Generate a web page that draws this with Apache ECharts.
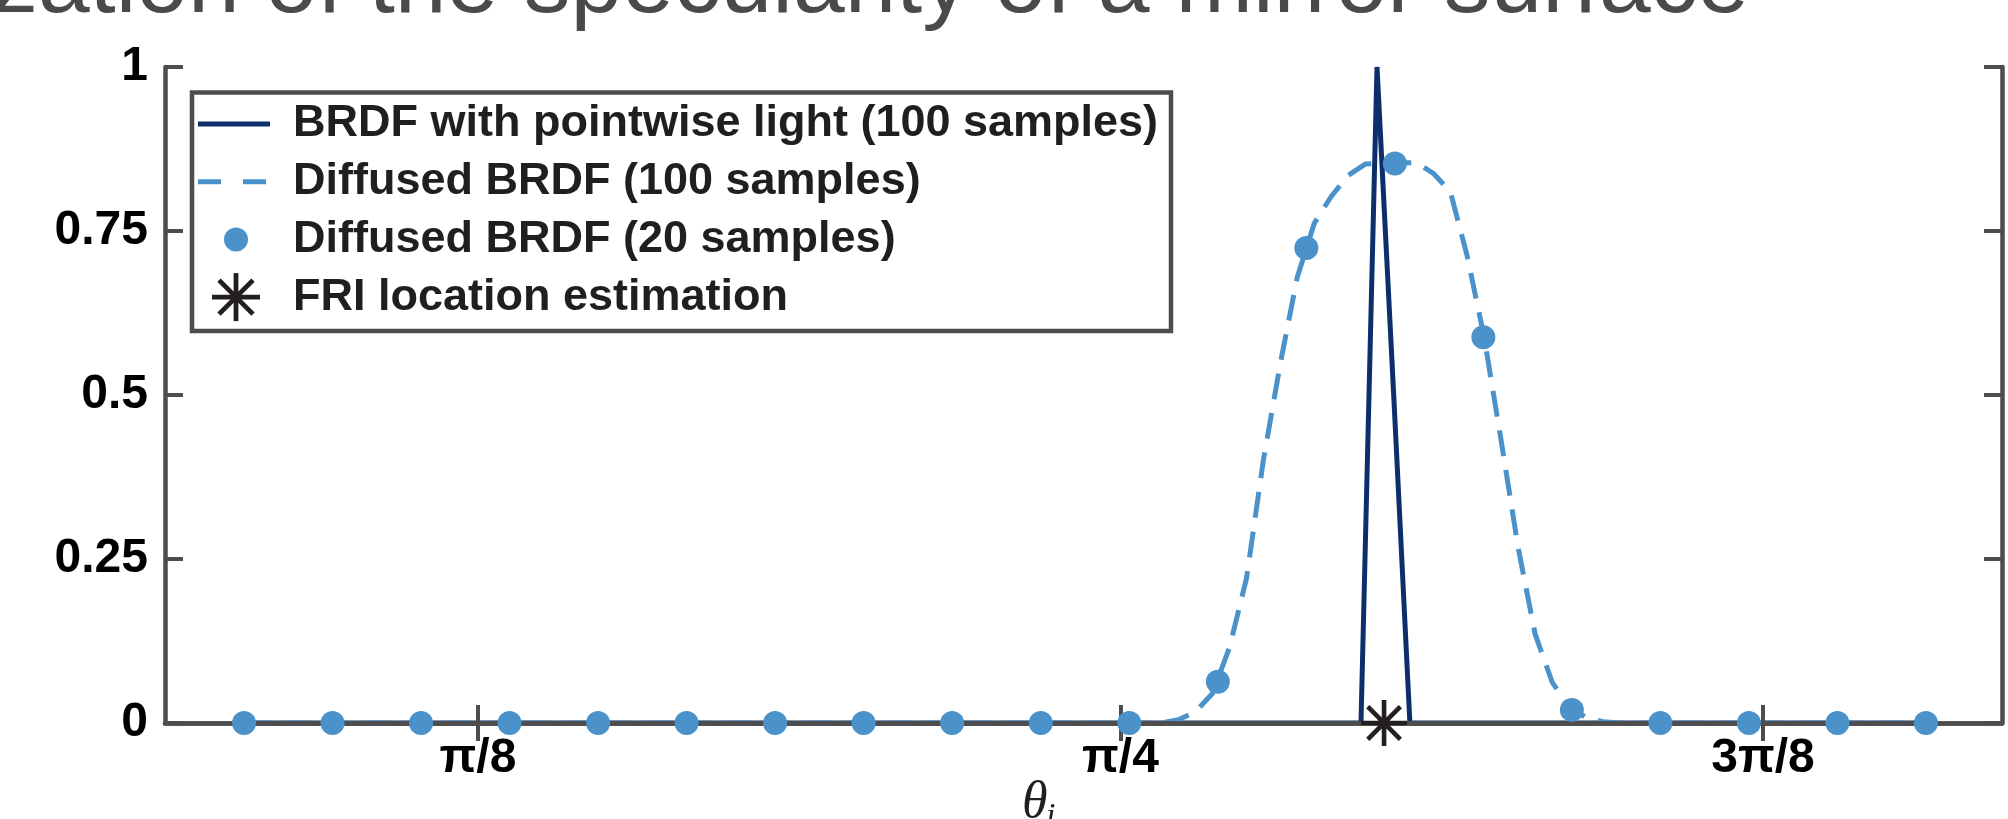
<!DOCTYPE html>
<html>
<head>
<meta charset="utf-8">
<script src="https://cdn.jsdelivr.net/npm/echarts@6/dist/echarts.min.js"></script>
<style>
html,body{margin:0;padding:0;background:#fff;}
#chart{width:2008px;height:819px;}
</style>
</head>
<body>
<div id="chart"></div>
<script>
// ---- data ----
const titleText = 'Localization of the specularity of a mirror surface';
const seriesNames = [
  'BRDF with pointwise light (100 samples)',
  'Diffused BRDF (100 samples)',
  'Diffused BRDF (20 samples)',
  'FRI location estimation'
];
const xTickValues = [Math.PI / 8, Math.PI / 4, 3 * Math.PI / 8];
const xTickLabels = ['π/8', 'π/4', '3π/8'];
const yTickValues = [0, 0.25, 0.5, 0.75, 1];

// pointwise-light BRDF (100 samples, only the samples where the shape changes)
const thetaPointwise = [0.2497, 0.9324, 0.9422, 0.9526, 0.9623, 1.2777];
const brdfPointwise  = [0,      0,      1,      0.49,   0,      0];

// diffused BRDF, 100 samples (zero outside the bump)
const thetaDiffused100 = [0.2497, 0.8001, 0.8104, 0.8208, 0.8312, 0.8416, 0.8520, 0.8624, 0.8727,
  0.8831, 0.8935, 0.9039, 0.9143, 0.9247, 0.9350, 0.9454, 0.9558, 0.9662, 0.9766, 0.9870,
  0.9973, 1.0077, 1.0181, 1.0285, 1.0389, 1.0493, 1.0596, 1.0700, 1.0804, 1.0908, 1.2777];
const brdfDiffused100 = [0, 0, 0, 0.005, 0.017, 0.045, 0.115, 0.22, 0.40,
  0.548, 0.68, 0.762, 0.803, 0.835, 0.852, 0.853, 0.854, 0.854, 0.838, 0.81,
  0.712, 0.588, 0.43, 0.267, 0.135, 0.062, 0.025, 0.008, 0.002, 0, 0];

// diffused BRDF, 20 samples
const thetaDiffused20 = [0.2497, 0.3038, 0.3579, 0.4120, 0.4661, 0.5202, 0.5743, 0.6284, 0.6825, 0.7367,
  0.7908, 0.8449, 0.8990, 0.9531, 1.0072, 1.0613, 1.1154, 1.1695, 1.2236, 1.2777];
const brdfDiffused20 = [0, 0, 0, 0, 0, 0, 0, 0, 0, 0,
  0, 0.063, 0.724, 0.853, 0.588, 0.020, 0, 0, 0, 0];

// FRI estimated location
const thetaFRI = [0.9465];
const valueFRI = [0];

const xMin = 0.2014, xMax = 1.3242;

// ---- styles ----
const axisColor = '#4d4d4d';
const darkBlue = '#0c2f6b';
const lightBlue = '#4a92c9';
const starColor = '#231f20';
const starPath = 'path://M45 0L55 0L55 100L45 100Z M0 45L100 45L100 55L0 55Z M18.1 11.1L88.9 81.9L81.9 88.9L11.1 18.1Z M81.9 11.1L88.9 18.1L18.1 88.9L11.1 81.9Z';

const zip = (a, b) => a.map((v, i) => [v, b[i]]);
const xLabelFmt = v => {
  let best = 0;
  xTickValues.forEach((t, i) => { if (Math.abs(t - v) < Math.abs(xTickValues[best] - v)) best = i; });
  return xTickLabels[best];
};

const tickFont = {fontFamily: '"Liberation Sans", Arial, sans-serif', fontWeight: 'bold', fontSize: 48, color: '#000', lineHeight: 48};
const axisLineStyle = {show: true, lineStyle: {color: axisColor, width: 4.5}};
const tickStyle = {show: true, inside: true, length: 18, lineStyle: {color: axisColor, width: 4}};

const chart = echarts.init(document.getElementById('chart'), null, {renderer: 'canvas'});
const legendTop = 124, legendGap = 57.7;
const legendText = {font: 'bold 45px "Liberation Sans", Arial, sans-serif', fill: '#1f1f1f'};

chart.setOption({
  animation: false,
  backgroundColor: '#fff',
  grid: {left: 165, right: 6, top: 67, bottom: 96, containLabel: false, outerBoundsMode: 'none'},
  xAxis: [{
    type: 'value', min: xMin, max: xMax, position: 'bottom', z: 3,
    axisLine: axisLineStyle,
    axisTick: Object.assign({customValues: xTickValues}, tickStyle),
    axisLabel: Object.assign({customValues: xTickValues, margin: 12, formatter: xLabelFmt}, tickFont),
    splitLine: {show: false}
  }, {
    type: 'value', min: xMin, max: xMax, position: 'top', z: 3,
    axisLine: axisLineStyle,
    axisTick: Object.assign({customValues: xTickValues}, tickStyle),
    axisLabel: {show: false},
    splitLine: {show: false}
  }],
  yAxis: [{
    type: 'value', min: 0, max: 1, interval: 0.25, position: 'left', z: 3,
    axisLine: axisLineStyle,
    axisTick: tickStyle,
    axisLabel: Object.assign({margin: 17, formatter: v => String(v)}, tickFont),
    splitLine: {show: false}
  }, {
    type: 'value', min: 0, max: 1, interval: 0.25, position: 'right', z: 3,
    axisLine: axisLineStyle,
    axisTick: tickStyle,
    axisLabel: {show: false},
    splitLine: {show: false}
  }],
  series: [{
    name: seriesNames[0], type: 'line', z: 2, clip: false,
    data: zip(thetaPointwise, brdfPointwise),
    showSymbol: false, symbol: 'none',
    lineStyle: {color: darkBlue, width: 5}
  }, {
    name: seriesNames[1], type: 'line', z: 2, clip: false,
    data: zip(thetaDiffused100, brdfDiffused100),
    showSymbol: false, symbol: 'none',
    lineStyle: {color: lightBlue, width: 5, type: [26, 14]}
  }, {
    name: seriesNames[2], type: 'scatter', z: 5, clip: false,
    data: zip(thetaDiffused20, brdfDiffused20),
    symbol: 'circle', symbolSize: 24,
    itemStyle: {color: lightBlue, opacity: 1}
  }, {
    name: seriesNames[3], type: 'scatter', z: 6, clip: false,
    data: zip(thetaFRI, valueFRI),
    symbol: starPath, symbolSize: 46,
    itemStyle: {color: starColor, opacity: 1}
  }],
  graphic: [
    // title (clipped by the top of the image, as in the reference)
    {type: 'text', z: 1, style: {text: titleText, x: 1749, y: -14, align: 'right', verticalAlign: 'middle',
      textAlign: 'right', textVerticalAlign: 'middle', font: 'normal 93px "Liberation Sans", Arial, sans-serif', fill: '#4a4a4a'}},
    // x axis label θ_i
    {type: 'text', z: 10, style: {text: 'θ', x: 1022, y: 803, verticalAlign: 'middle', textVerticalAlign: 'middle',
      font: 'italic 52px "Liberation Serif", "DejaVu Serif", serif', fill: '#1f1f1f'}},
    {type: 'text', z: 10, style: {text: 'i', x: 1046, y: 800, verticalAlign: 'top', textVerticalAlign: 'top',
      font: 'italic 34px "Liberation Serif", "DejaVu Serif", serif', fill: '#1f1f1f'}},
    // legend box
    {type: 'rect', z: 20, shape: {x: 192, y: 92.5, width: 979, height: 238.5},
      style: {fill: '#fff', stroke: axisColor, lineWidth: 4.5}},
    {type: 'line', z: 21, shape: {x1: 198, y1: legendTop, x2: 270, y2: legendTop},
      style: {stroke: darkBlue, lineWidth: 5}},
    {type: 'line', z: 21, shape: {x1: 198, y1: legendTop + legendGap, x2: 269, y2: legendTop + legendGap},
      style: {stroke: lightBlue, lineWidth: 5, lineDash: [23, 22]}},
    {type: 'circle', z: 21, shape: {cx: 236, cy: legendTop + 2 * legendGap, r: 12},
      style: {fill: lightBlue}},
    {type: 'line', z: 21, shape: {x1: 236, y1: legendTop + 3 * legendGap - 24, x2: 236, y2: legendTop + 3 * legendGap + 24},
      style: {stroke: starColor, lineWidth: 4.8}},
    {type: 'line', z: 21, shape: {x1: 212, y1: legendTop + 3 * legendGap, x2: 260, y2: legendTop + 3 * legendGap},
      style: {stroke: starColor, lineWidth: 4.8}},
    {type: 'line', z: 21, shape: {x1: 219, y1: legendTop + 3 * legendGap - 17, x2: 253, y2: legendTop + 3 * legendGap + 17},
      style: {stroke: starColor, lineWidth: 4.8}},
    {type: 'line', z: 21, shape: {x1: 253, y1: legendTop + 3 * legendGap - 17, x2: 219, y2: legendTop + 3 * legendGap + 17},
      style: {stroke: starColor, lineWidth: 4.8}}
  ].concat(seriesNames.map((n, i) => ({
    type: 'text', z: 21,
    style: Object.assign({text: n, x: 293, y: legendTop + i * legendGap, verticalAlign: 'middle', textVerticalAlign: 'middle'}, legendText)
  })))
});
</script>
</body>
</html>
